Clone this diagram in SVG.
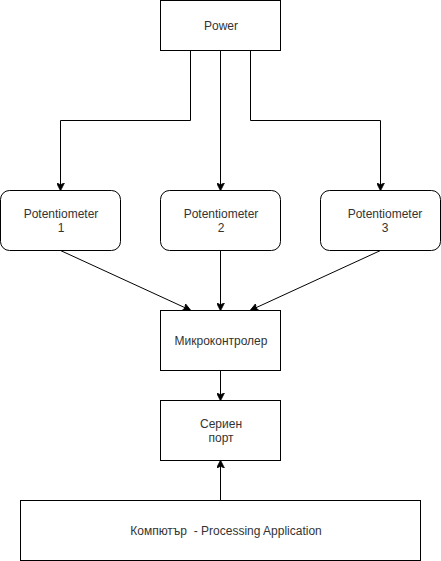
<svg xmlns="http://www.w3.org/2000/svg" width="441" height="561" viewBox="0 0 441 561">
<style>
.box{fill:#fff;stroke:#000;stroke-width:1}
.t{font-family:"Liberation Sans",Arial,sans-serif;font-size:12px;fill:#333;text-anchor:middle;white-space:pre}
.c{fill:none;stroke:#000;stroke-width:1}
</style>
<defs>
<marker id="arr" viewBox="0 0 10 10" refX="9" refY="5" markerWidth="8" markerHeight="8" markerUnits="userSpaceOnUse" orient="auto">
<path d="M0,0 L10,5 L0,10 L2.5,5 Z" fill="#000" stroke="#000" stroke-width="1"/>
</marker>
</defs>
<rect width="441" height="561" fill="#fff"/>
<g id="connectors">
<path class="c" d="M190.5,50.5 V120.5 H60.5 V190" marker-end="url(#arr)"/>
<path class="c" d="M220.5,50.5 V190" marker-end="url(#arr)"/>
<path class="c" d="M250.5,50.5 V120.5 H380.5 V190" marker-end="url(#arr)"/>
<path class="c" d="M60.5,250.5 L190,310" marker-end="url(#arr)"/>
<path class="c" d="M220.5,250.5 V310" marker-end="url(#arr)"/>
<path class="c" d="M380.5,250.5 L251,310" marker-end="url(#arr)"/>
<path class="c" d="M220.5,370.5 V400" marker-end="url(#arr)"/>
<path class="c" d="M220.5,500.5 V461" marker-end="url(#arr)"/>
</g>
<g id="power">
<rect class="box" x="160.5" y="0.5" width="120" height="50"/>
<text class="t" x="221" y="29.5">Power</text>
</g>
<g id="pot1">
<rect class="box" x="0.5" y="190.5" width="120" height="60" rx="9" ry="9"/>
<text class="t" x="61" y="218">Potentiometer</text>
<text class="t" x="61" y="232">1</text>
</g>
<g id="pot2">
<rect class="box" x="160.5" y="190.5" width="120" height="60" rx="9" ry="9"/>
<text class="t" x="221" y="218">Potentiometer</text>
<text class="t" x="221" y="232">2</text>
</g>
<g id="pot3">
<rect class="box" x="320.5" y="190.5" width="120" height="60" rx="9" ry="9"/>
<text class="t" x="385" y="218">Potentiometer</text>
<text class="t" x="385" y="232">3</text>
</g>
<g id="micro">
<rect class="box" x="160.5" y="310.5" width="120" height="60"/>
<text class="t" x="221" y="345">Микроконтролер</text>
</g>
<g id="serial">
<rect class="box" x="160.5" y="400.5" width="120" height="60"/>
<text class="t" x="221" y="428">Сериен</text>
<text class="t" x="221" y="442">порт</text>
</g>
<g id="computer">
<rect class="box" x="20.5" y="500.5" width="400" height="60"/>
<text class="t" x="226" y="535">Компютър  - Processing Application</text>
</g>
</svg>
